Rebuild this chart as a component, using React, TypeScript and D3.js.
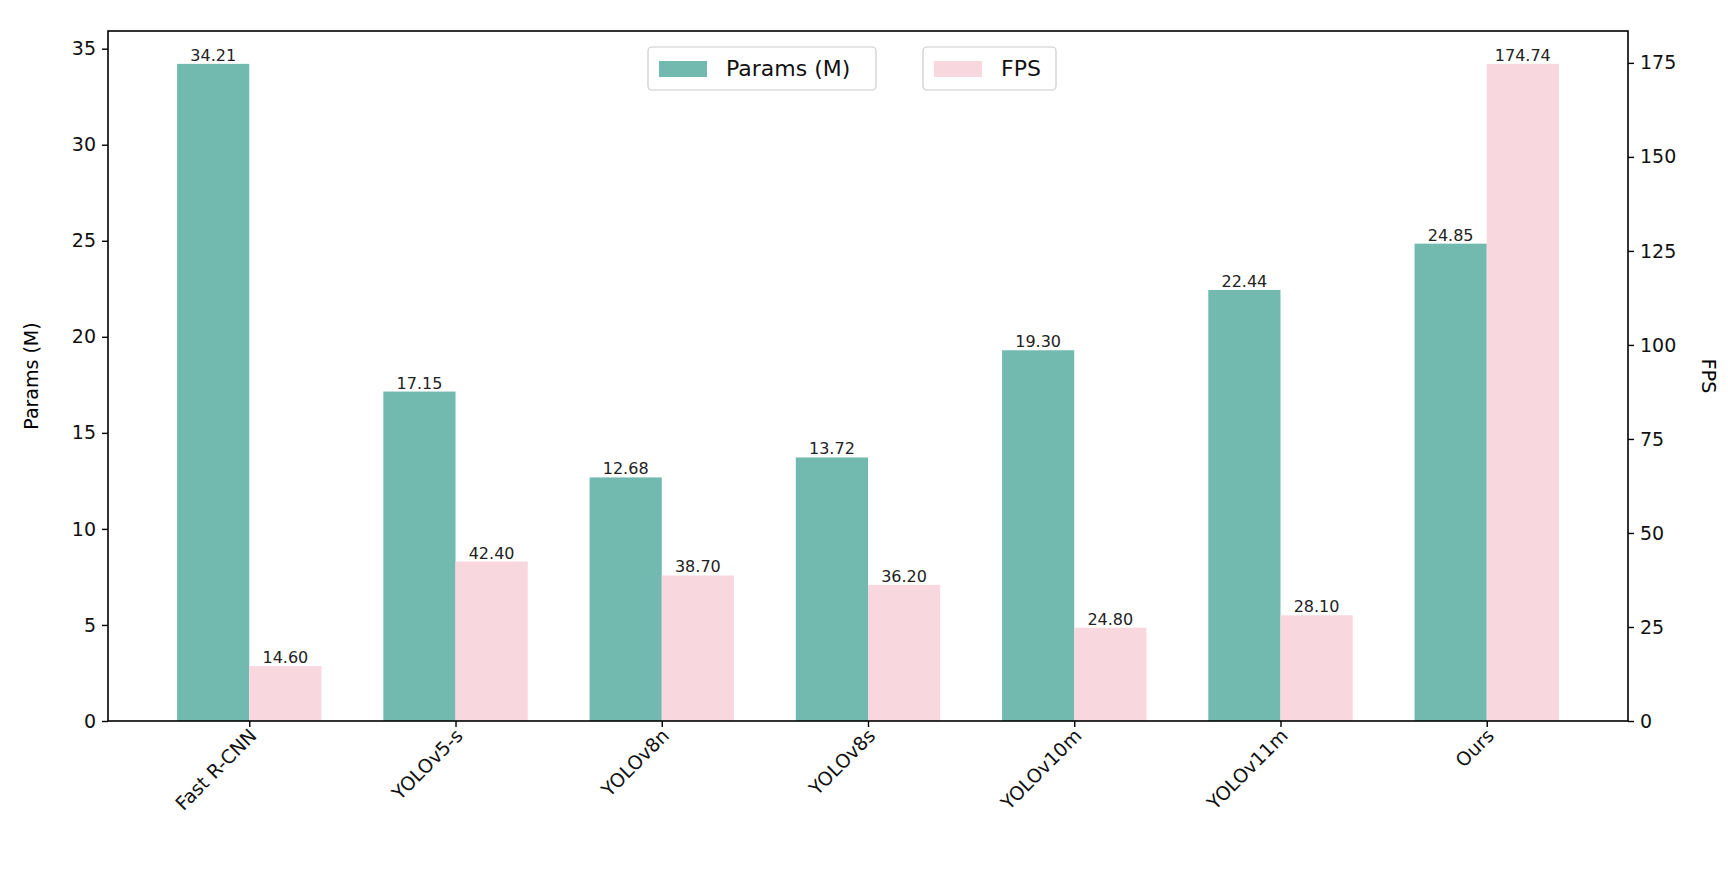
import { useEffect, useRef } from 'react';
import * as d3 from 'd3';

const models = ['Fast R-CNN', 'YOLOv5-s', 'YOLOv8n', 'YOLOv8s', 'YOLOv10m', 'YOLOv11m', 'Ours'];
const params = [34.21, 17.15, 12.68, 13.72, 19.3, 22.44, 24.85];
const fps = [14.6, 42.4, 38.7, 36.2, 24.8, 28.1, 174.74];
const leftTicks = [0, 5, 10, 15, 20, 25, 30, 35];
const rightTicks = [0, 25, 50, 75, 100, 125, 150, 175];

const W = 1728;
const H = 872;
const TEAL = '#72b9b0';
const PINK = '#f8d7de';
const FONT = 'DejaVu Sans, sans-serif';

export default function App() {
  const ref = useRef<SVGSVGElement | null>(null);

  useEffect(() => {
    if (!ref.current) return;
    const svg = d3.select(ref.current);
    svg.selectAll('*').remove();

    const left = 108, right = 1628, top = 31, bottom = 721;
    const bw = 0.35;
    const x = d3.scaleLinear().domain([-0.685, 6.685]).range([left, right]);
    const yL = d3.scaleLinear().domain([0, 34.21 * 1.05]).range([bottom, top]);
    const yR = d3.scaleLinear().domain([0, 174.74 * 1.05]).range([bottom, top]);

    svg.append('rect').attr('width', W).attr('height', H).attr('fill', '#fff');

    const g = svg.append('g');
    models.forEach((m, i) => {
      const x0 = x(i - bw), x1 = x(i), x2 = x(i + bw);
      g.append('rect').attr('x', x0).attr('width', x1 - x0)
        .attr('y', yL(params[i])).attr('height', bottom - yL(params[i])).attr('fill', TEAL);
      g.append('rect').attr('x', x1).attr('width', x2 - x1)
        .attr('y', yR(fps[i])).attr('height', bottom - yR(fps[i])).attr('fill', PINK);
      g.append('text').attr('x', (x0 + x1) / 2).attr('y', yL(params[i]) - 3)
        .attr('text-anchor', 'middle').attr('font-size', 16).attr('font-family', FONT)
        .attr('fill', '#222').text(params[i].toFixed(2));
      g.append('text').attr('x', (x1 + x2) / 2).attr('y', yR(fps[i]) - 3)
        .attr('text-anchor', 'middle').attr('font-size', 16).attr('font-family', FONT)
        .attr('fill', '#222').text(fps[i].toFixed(2));
    });

    // frame
    svg.append('rect').attr('x', left).attr('y', top).attr('width', right - left)
      .attr('height', bottom - top).attr('fill', 'none').attr('stroke', '#000').attr('stroke-width', 1.6);

    const axL = svg.append('g').attr('transform', `translate(${left},0)`)
      .call(d3.axisLeft(yL).tickValues(leftTicks).tickSize(6).tickPadding(6));
    const axR = svg.append('g').attr('transform', `translate(${right},0)`)
      .call(d3.axisRight(yR).tickValues(rightTicks).tickSize(6).tickPadding(6));
    const axB = svg.append('g').attr('transform', `translate(0,${bottom})`)
      .call(d3.axisBottom(x).tickValues(d3.range(models.length)).tickFormat((d) => models[+d]).tickSize(6));
    [axL, axR, axB].forEach((a) => {
      a.select('.domain').remove();
      a.selectAll('line').attr('stroke', '#000').attr('stroke-width', 1.4);
      a.selectAll('text').attr('font-size', 19).attr('font-family', FONT).attr('fill', '#111');
    });
    axB.selectAll('text')
      .attr('text-anchor', 'end').attr('dy', null).attr('y', 0)
      .attr('transform', 'translate(8,16) rotate(-45)');

    svg.append('text').attr('transform', `translate(38,${(top + bottom) / 2}) rotate(-90)`)
      .attr('text-anchor', 'middle').attr('font-size', 19).attr('font-family', FONT).text('Params (M)');
    svg.append('text').attr('transform', `translate(1702,${(top + bottom) / 2}) rotate(90)`)
      .attr('text-anchor', 'middle').attr('font-size', 19).attr('font-family', FONT).text('FPS');

    // legends
    const legend = (lx: number, w: number, color: string, label: string) => {
      svg.append('rect').attr('x', lx).attr('y', 47).attr('width', w).attr('height', 43).attr('rx', 4)
        .attr('fill', '#fff').attr('stroke', '#ccc').attr('stroke-width', 1.2);
      svg.append('rect').attr('x', lx + 11).attr('y', 61).attr('width', 48).attr('height', 16).attr('fill', color);
      svg.append('text').attr('x', lx + 78).attr('y', 76).attr('font-size', 22).attr('font-family', FONT)
        .attr('fill', '#111').text(label);
    };
    legend(648, 228, TEAL, 'Params (M)');
    legend(923, 133, PINK, 'FPS');
  }, []);

  return <svg ref={ref} width={W} height={H} style={{ position: 'absolute', left: 0, top: 0 }} />;
}
